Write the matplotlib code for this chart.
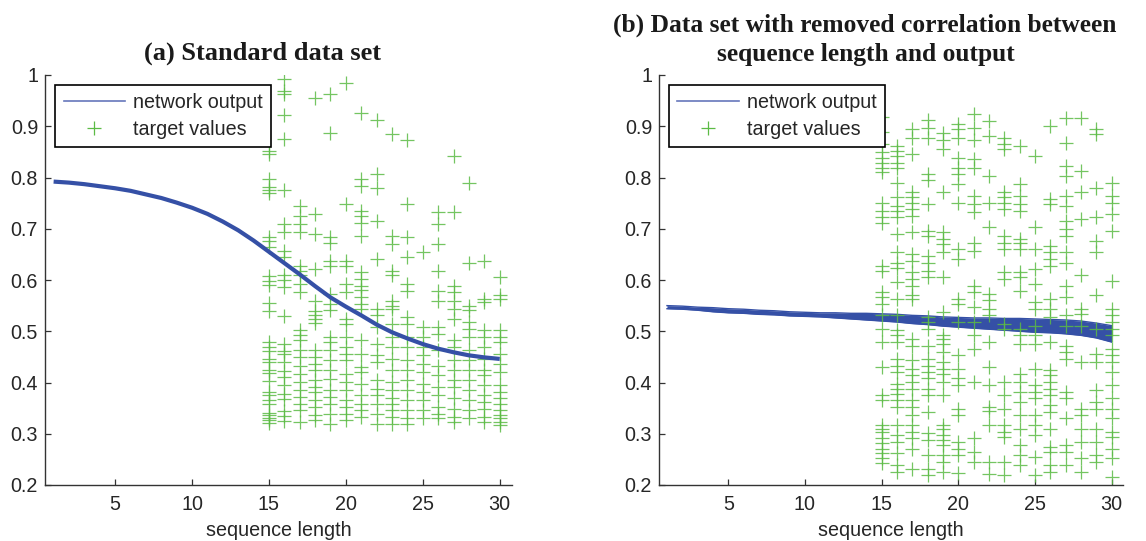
import matplotlib
matplotlib.use('Agg')
import matplotlib.pyplot as plt
from matplotlib.lines import Line2D
from matplotlib.ticker import FixedLocator, FixedFormatter

# ---------------- data ----------------
seq_len = list(range(1, 31))

# (a) network output (mean curve)
out_a = [0.792, 0.790, 0.787, 0.783, 0.779, 0.774, 0.767, 0.760, 0.751, 0.741,
         0.729, 0.714, 0.697, 0.677, 0.655, 0.633, 0.611, 0.588, 0.566, 0.548,
         0.531, 0.513, 0.498, 0.486, 0.475, 0.466, 0.459, 0.453, 0.449, 0.446]

# (b) network output band (upper / lower envelope)
out_b_hi = [0.550, 0.549, 0.547, 0.546, 0.544, 0.543, 0.541, 0.540, 0.538, 0.537,
            0.536, 0.536, 0.535, 0.535, 0.534, 0.533, 0.531, 0.530, 0.528, 0.527,
            0.526, 0.526, 0.525, 0.525, 0.524, 0.523, 0.522, 0.520, 0.516, 0.511]
out_b_lo = [0.544, 0.543, 0.541, 0.538, 0.536, 0.535, 0.533, 0.532, 0.530, 0.529,
            0.528, 0.526, 0.524, 0.522, 0.520, 0.518, 0.515, 0.513, 0.510, 0.508,
            0.506, 0.504, 0.502, 0.500, 0.498, 0.497, 0.495, 0.492, 0.487, 0.479]

target_lengths = list(range(15, 31))

# (a) target values per sequence length
a15 = [0.852, 0.845, 0.798, 0.781, 0.775, 0.770, 0.684, 0.677, 0.664, 0.607, 0.598,
       0.590, 0.556, 0.539, 0.479, 0.470, 0.462, 0.445, 0.440, 0.425, 0.418, 0.402,
       0.382, 0.376, 0.365, 0.358, 0.341, 0.336, 0.331, 0.326, 0.321]
a16 = [0.993, 0.968, 0.962, 0.921, 0.876, 0.775, 0.710, 0.694, 0.657, 0.645, 0.610,
       0.600, 0.587, 0.530, 0.476, 0.462, 0.455, 0.440, 0.422, 0.410, 0.395, 0.378,
       0.368, 0.345, 0.335, 0.324]
a17 = [0.745, 0.725, 0.709, 0.693, 0.628, 0.618, 0.609, 0.592, 0.577, 0.502, 0.492,
       0.482, 0.463, 0.450, 0.433, 0.417, 0.401, 0.385, 0.372, 0.359, 0.346, 0.323]
a18 = [0.956, 0.729, 0.690, 0.622, 0.560, 0.540, 0.532, 0.524, 0.516, 0.463, 0.450,
       0.437, 0.424, 0.404, 0.391, 0.381, 0.365, 0.352, 0.336, 0.326]
a19 = [0.962, 0.887, 0.683, 0.673, 0.638, 0.628, 0.573, 0.554, 0.541, 0.489, 0.479,
       0.463, 0.443, 0.424, 0.407, 0.385, 0.372, 0.359, 0.339, 0.320]
a20 = [0.985, 0.748, 0.638, 0.628, 0.592, 0.577, 0.524, 0.515, 0.489, 0.469, 0.456,
       0.443, 0.417, 0.401, 0.385, 0.365, 0.352, 0.339, 0.326]
a21 = [0.926, 0.797, 0.784, 0.735, 0.725, 0.712, 0.686, 0.615, 0.602, 0.589, 0.580,
       0.566, 0.554, 0.544, 0.482, 0.456, 0.430, 0.420, 0.398, 0.375, 0.359, 0.346, 0.333]
a22 = [0.913, 0.806, 0.780, 0.716, 0.641, 0.544, 0.531, 0.508, 0.476, 0.453, 0.440,
       0.404, 0.388, 0.375, 0.359, 0.339, 0.320]
a23 = [0.884, 0.686, 0.670, 0.618, 0.609, 0.560, 0.550, 0.544, 0.515, 0.489, 0.469,
       0.446, 0.424, 0.401, 0.385, 0.369, 0.359, 0.346, 0.333, 0.320]
a24 = [0.874, 0.748, 0.683, 0.644, 0.592, 0.579, 0.528, 0.515, 0.489, 0.469, 0.443,
       0.424, 0.404, 0.385, 0.365, 0.346, 0.330, 0.320]
a25 = [0.654, 0.508, 0.489, 0.469, 0.453, 0.437, 0.420, 0.398, 0.382, 0.365, 0.346, 0.330]
a26 = [0.732, 0.709, 0.670, 0.618, 0.579, 0.560, 0.508, 0.495, 0.463, 0.433, 0.414,
       0.391, 0.375, 0.352, 0.339, 0.330]
a27 = [0.842, 0.732, 0.589, 0.576, 0.560, 0.544, 0.524, 0.482, 0.469, 0.443, 0.424,
       0.404, 0.391, 0.369, 0.349, 0.333, 0.322]
a28 = [0.790, 0.634, 0.550, 0.541, 0.518, 0.505, 0.489, 0.463, 0.443, 0.424, 0.404,
       0.385, 0.365, 0.346, 0.330]
a29 = [0.638, 0.563, 0.557, 0.502, 0.489, 0.469, 0.446, 0.424, 0.414, 0.395, 0.375,
       0.362, 0.349, 0.333, 0.322]
a30 = [0.605, 0.570, 0.563, 0.502, 0.489, 0.479, 0.456, 0.437, 0.420, 0.395, 0.382,
       0.369, 0.359, 0.346, 0.336, 0.330, 0.323, 0.318]

# (b) target values per sequence length
b15 = [0.918, 0.888, 0.865, 0.849, 0.839, 0.829, 0.819, 0.810, 0.751, 0.735, 0.722,
       0.712, 0.628, 0.618, 0.576, 0.566, 0.553, 0.531, 0.505, 0.479, 0.430, 0.375,
       0.365, 0.317, 0.310, 0.304, 0.291, 0.281, 0.271, 0.262, 0.252, 0.242]
b16 = [0.861, 0.852, 0.842, 0.829, 0.819, 0.790, 0.761, 0.745, 0.735, 0.722, 0.690,
       0.654, 0.634, 0.624, 0.596, 0.563, 0.531, 0.502, 0.492, 0.479, 0.446, 0.433,
       0.420, 0.398, 0.388, 0.378, 0.365, 0.352, 0.317, 0.297, 0.284, 0.262, 0.239, 0.226]
b17 = [0.894, 0.878, 0.845, 0.771, 0.761, 0.751, 0.738, 0.725, 0.693, 0.651, 0.638,
       0.615, 0.602, 0.589, 0.570, 0.563, 0.485, 0.472, 0.443, 0.427, 0.414, 0.401,
       0.388, 0.365, 0.352, 0.336, 0.317, 0.304, 0.291, 0.271, 0.232]
b18 = [0.913, 0.897, 0.878, 0.806, 0.796, 0.748, 0.696, 0.686, 0.647, 0.634, 0.618,
       0.605, 0.527, 0.518, 0.505, 0.472, 0.446, 0.433, 0.420, 0.408, 0.388, 0.375,
       0.343, 0.301, 0.288, 0.258, 0.232, 0.219]
b19 = [0.887, 0.874, 0.855, 0.771, 0.693, 0.680, 0.670, 0.654, 0.605, 0.537, 0.492,
       0.485, 0.476, 0.459, 0.440, 0.427, 0.417, 0.401, 0.375, 0.317, 0.310, 0.297,
       0.288, 0.278, 0.258, 0.245, 0.226]
b20 = [0.904, 0.894, 0.878, 0.839, 0.819, 0.806, 0.787, 0.751, 0.660, 0.641, 0.563,
       0.553, 0.518, 0.453, 0.427, 0.408, 0.395, 0.349, 0.336, 0.284, 0.271, 0.258, 0.223]
b21 = [0.923, 0.897, 0.874, 0.836, 0.819, 0.764, 0.748, 0.732, 0.673, 0.657, 0.589,
       0.576, 0.547, 0.518, 0.492, 0.466, 0.401, 0.291, 0.265, 0.245]
b22 = [0.910, 0.881, 0.803, 0.751, 0.703, 0.573, 0.561, 0.544, 0.531, 0.479, 0.430,
       0.395, 0.352, 0.345, 0.317, 0.245, 0.222]
b23 = [0.878, 0.865, 0.855, 0.771, 0.761, 0.751, 0.738, 0.686, 0.673, 0.660, 0.615,
       0.602, 0.515, 0.505, 0.401, 0.375, 0.349, 0.317, 0.304, 0.294, 0.245, 0.219]
b24 = [0.861, 0.787, 0.764, 0.748, 0.735, 0.680, 0.673, 0.660, 0.615, 0.605, 0.579,
       0.505, 0.492, 0.476, 0.417, 0.401, 0.382, 0.362, 0.336, 0.310, 0.278, 0.258, 0.239]
b25 = [0.842, 0.703, 0.660, 0.622, 0.592, 0.557, 0.544, 0.511, 0.492, 0.476, 0.427,
       0.395, 0.382, 0.369, 0.336, 0.317, 0.297, 0.255, 0.219]
b26 = [0.900, 0.758, 0.748, 0.667, 0.654, 0.641, 0.628, 0.563, 0.544, 0.527, 0.479,
       0.424, 0.414, 0.401, 0.388, 0.375, 0.356, 0.343, 0.310, 0.275, 0.265, 0.239, 0.226]
b27 = [0.917, 0.868, 0.823, 0.803, 0.764, 0.745, 0.716, 0.699, 0.686, 0.654, 0.634,
       0.589, 0.566, 0.531, 0.511, 0.472, 0.459, 0.446, 0.382, 0.369, 0.330, 0.278,
       0.265, 0.239]
b28 = [0.917, 0.813, 0.771, 0.719, 0.609, 0.544, 0.534, 0.511, 0.440, 0.349, 0.336,
       0.310, 0.284, 0.252, 0.226]
b29 = [0.894, 0.884, 0.780, 0.722, 0.677, 0.654, 0.570, 0.505, 0.456, 0.440, 0.385,
       0.362, 0.349, 0.310, 0.284, 0.258, 0.245]
b30 = [0.790, 0.764, 0.751, 0.728, 0.696, 0.599, 0.544, 0.531, 0.518, 0.505, 0.492,
       0.466, 0.453, 0.440, 0.420, 0.395, 0.369, 0.349, 0.330, 0.304, 0.294, 0.271,
       0.252, 0.216]

y_ticks = [0.2, 0.3, 0.4, 0.5, 0.6, 0.7, 0.8, 0.9, 1.0]
y_tick_labels = ['0.2', '0.3', '0.4', '0.5', '0.6', '0.7', '0.8', '0.9', '1']
x_ticks = [5, 10, 15, 20, 25, 30]
x_tick_labels = ['5', '10', '15', '20', '25', '30']

a_cols = [a15, a16, a17, a18, a19, a20, a21, a22, a23, a24, a25, a26, a27, a28, a29, a30]
b_cols = [b15, b16, b17, b18, b19, b20, b21, b22, b23, b24, b25, b26, b27, b28, b29, b30]


def flatten(lengths, cols):
    xs, ys = [], []
    for L, c in zip(lengths, cols):
        xs.extend([L] * len(c))
        ys.extend(c)
    return xs, ys


# ---------------- style ----------------
plt.rcParams['font.family'] = ['Liberation Sans', 'DejaVu Sans']
BLUE = '#3550a6'
BLUE_LEG = '#6677bb'
GREEN = '#5cbb45'
TXT = '#262626'
FS = 14.2

W, H = 1146, 541
fig = plt.figure(figsize=(W / 100, H / 100), dpi=100)


def axes_px(x0, x1, y_top, y_bot):
    return fig.add_axes([x0 / W, 1 - y_bot / H, (x1 - x0) / W, (y_bot - y_top) / H])


ax1 = axes_px(45, 512, 75, 485)
ax2 = axes_px(659, 1123, 75, 485)

ax1.set_xlim(0.44, 30.8)
ax2.set_xlim(0.48, 30.75)

xa, ya = flatten(target_lengths, a_cols)
xb, yb = flatten(target_lengths, b_cols)

ms = 10
ax1.plot(xa, ya, linestyle='none', marker='+', ms=ms, mew=0.9, color=GREEN, alpha=0.85, zorder=2)
ax1.plot(seq_len, out_a, color=BLUE, lw=3.0, solid_capstyle='butt', zorder=3)

ax2.fill_between(seq_len, out_b_lo, out_b_hi, color=BLUE, lw=0, zorder=2)
ax2.plot(seq_len, out_b_hi, color=BLUE, lw=1.0, zorder=2)
ax2.plot(seq_len, out_b_lo, color=BLUE, lw=1.0, zorder=2)
ax2.plot(xb, yb, linestyle='none', marker='+', ms=ms, mew=0.9, color=GREEN, alpha=0.85, zorder=3)

for ax in (ax1, ax2):
    ax.set_ylim(0.2, 1.0)
    ax.yaxis.set_major_locator(FixedLocator(y_ticks))
    ax.yaxis.set_major_formatter(FixedFormatter(y_tick_labels))
    ax.xaxis.set_major_locator(FixedLocator(x_ticks))
    ax.xaxis.set_major_formatter(FixedFormatter(x_tick_labels))
    for s in ('top', 'right'):
        ax.spines[s].set_visible(False)
    for s in ('left', 'bottom'):
        ax.spines[s].set_color('#333333')
        ax.spines[s].set_linewidth(1.0)
    ax.tick_params(direction='in', length=4, width=0.9, colors='#333333',
                   labelcolor=TXT, labelsize=FS)
    ax.tick_params(axis='x', pad=7)
    ax.tick_params(axis='y', pad=5)
    ax.set_xlabel('sequence length', fontsize=FS, color=TXT, labelpad=5)
    handles = [Line2D([], [], color=BLUE_LEG, lw=1.2),
               Line2D([], [], linestyle='none', marker='+', ms=ms, mew=0.9, color=GREEN)]
    leg = ax.legend(handles, ['network output', 'target values'], loc='upper left',
                    bbox_to_anchor=(0.022, 0.976), borderaxespad=0, fontsize=FS,
                    handlelength=3.1, handletextpad=0.4, borderpad=0.42, labelspacing=0.38,
                    fancybox=False, framealpha=1, edgecolor='black')
    leg.get_frame().set_linewidth(1.2)
    for t in leg.get_texts():
        t.set_color(TXT)

title_kw = dict(family=['Liberation Serif', 'DejaVu Serif'], weight='bold',
                color='#1a1a1a', ha='center', va='center')
fig.text(263 / W, 1 - 53 / H, '(a) Standard data set', fontsize=19, **title_kw)
fig.text(865 / W, 1 - 25 / H, '(b) Data set with removed correlation between', fontsize=18.4, **title_kw)
fig.text(866 / W, 1 - 54 / H, 'sequence length and output', fontsize=18.4, **title_kw)

fig.savefig('out.png', dpi=100)
